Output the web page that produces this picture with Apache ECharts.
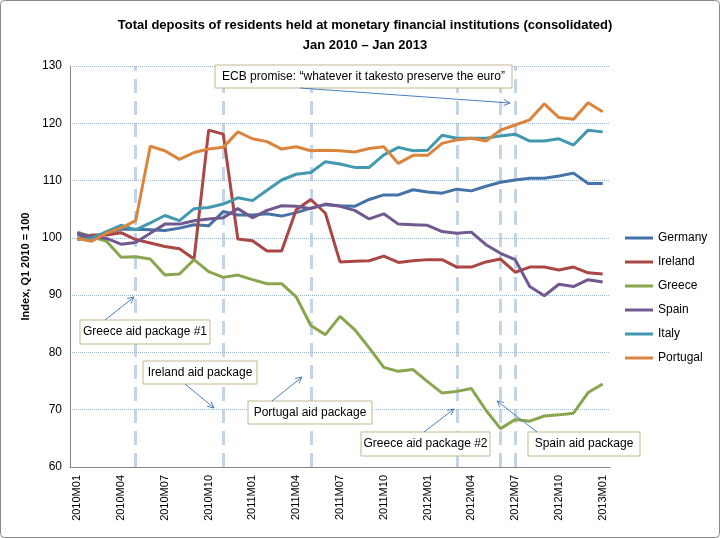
<!DOCTYPE html>
<html><head><meta charset="utf-8">
<script src="https://cdn.jsdelivr.net/npm/echarts@6/dist/echarts.min.js"></script>
<style>html,body{margin:0;padding:0;background:#fff}#c{width:721px;height:539px}</style>
</head><body><div id="c"></div>
<script>
const months = [];
for (let y = 2010; y <= 2013; y++) for (let m = 1; m <= 12; m++) { if (y === 2013 && m > 1) break; months.push(y + 'M' + String(m).padStart(2, '0')); }
const germany = [100.5,100.2,100.8,101.5,101.5,101.4,101.3,101.7,102.3,102.1,104.6,104,104,104.2,103.8,104.4,105.2,105.8,105.6,105.5,106.7,107.5,107.5,108.4,108,107.8,108.5,108.2,109,109.7,110.1,110.4,110.4,110.8,111.3,109.5,109.5];
const ireland = [99.7,100.5,100.5,100.9,99.7,99.1,98.5,98.1,96.3,118.8,118.1,99.8,99.5,97.7,97.7,104.9,106.7,104.3,95.8,95.9,96,96.8,95.7,96,96.2,96.2,94.9,94.9,95.8,96.3,94,94.9,94.9,94.4,94.9,93.9,93.7];
const greece = [101,100.2,99.4,96.6,96.7,96.3,93.5,93.7,96.2,94.1,93.1,93.5,92.7,92,92,89.7,84.7,83.1,86.3,84,80.8,77.4,76.7,77,74.9,72.9,73.2,73.7,69.9,66.7,68.3,68,68.9,69.1,69.4,73,74.5];
const spain = [100.8,100.2,99.9,98.9,99.2,100.8,102.4,102.4,103,103.3,103.5,105.1,103.5,104.8,105.6,105.5,105.1,105.9,105.5,104.8,103.3,104.2,102.4,102.3,102.2,101.1,100.8,101,98.8,97.3,96.2,91.5,89.9,91.9,91.5,92.7,92.3];
const italy = [99.8,99.9,101.1,102.2,101.4,102.6,103.9,103,105.1,105.3,105.9,107,106.5,108.3,110.1,111.1,111.4,113.3,112.9,112.3,112.3,114.5,115.8,115.2,115.3,117.9,117.4,117.4,117.4,117.8,118.1,116.9,116.9,117.3,116.2,118.8,118.5];
const portugal = [99.9,99.4,100.8,101.7,103,116,115.2,113.7,114.9,115.5,115.8,118.5,117.3,116.8,115.5,115.9,115.2,115.3,115.2,115,115.6,115.9,113,114.4,114.4,116.5,117.1,117.4,116.9,118.8,119.7,120.6,123.4,121,120.7,123.6,122];
// event positions as (fractional) month indices
const eventIndex = [4, 9.5, 15.5, 26, 28.7, 29.8];

const chart = echarts.init(document.getElementById('c'));
const font = 'Liberation Sans, Arial, sans-serif';
function mk(name, data, color, extra) {
  return Object.assign({ name, type: 'line', data, symbol: 'none', lineStyle: { width: 3, color }, itemStyle: { color } }, extra || {});
}
function box(x, y, w, h, text) {
  return [{ type: 'rect', shape: { x, y, width: w, height: h }, style: { fill: '#fff', stroke: '#c4b88f', lineWidth: 1 }, z: 100 },
          { type: 'text', x: x + w / 2, y: y + h / 2, style: { text, font: '12px ' + font, fill: '#000', align: 'center', verticalAlign: 'middle' }, z: 101 }];
}
function arrow(x1, y1, x2, y2) {
  const a = Math.atan2(y2 - y1, x2 - x1), L = 7;
  return [{ type: 'line', shape: { x1, y1, x2, y2 }, style: { stroke: '#4a7ebb', lineWidth: 1 }, z: 100 },
          { type: 'polyline', shape: { points: [[x2 - L * Math.cos(a - 0.45), y2 - L * Math.sin(a - 0.45)], [x2, y2], [x2 - L * Math.cos(a + 0.45), y2 - L * Math.sin(a + 0.45)]] }, style: { stroke: '#4a7ebb', lineWidth: 1, fill: null }, z: 100 }];
}
chart.setOption({
  animation: false,
  title: { text: 'Total deposits of residents held at monetary financial institutions (consolidated)\nJan 2010 – Jan 2013', left: 360, textAlign: 'center', top: 10, textStyle: { fontSize: 13, fontWeight: 'bold', fontFamily: font, lineHeight: 20, color: '#000' } },
  legend: { orient: 'vertical', left: 620, top: 227, itemGap: 12, itemWidth: 28, itemHeight: 3, icon: 'rect', textStyle: { fontFamily: font, fontSize: 12, color: '#000' }, data: ['Germany','Ireland','Greece','Spain','Italy','Portugal'] },
  grid: { left: 70, right: 111, top: 66, bottom: 72 },
  xAxis: { type: 'category', data: months, boundaryGap: true,
    axisLine: { lineStyle: { color: '#868686' } }, axisTick: { show: false },
    axisLabel: { interval: 2, rotate: 90, fontFamily: font, fontSize: 11, color: '#000' } },
  yAxis: { type: 'value', min: 60, max: 130, interval: 10, name: 'Index, Q1 2010 = 100', nameLocation: 'middle', nameGap: 38, nameTextStyle: { fontWeight: 'bold', fontFamily: font, fontSize: 11, color: '#000' },
    axisLine: { show: true, lineStyle: { color: '#868686' } },
    axisLabel: { fontFamily: font, fontSize: 12, color: '#000' },
    splitLine: { lineStyle: { type: 'dotted', color: '#9bb7d9' } } },
  series: [
    mk('Germany', germany, '#4572A7', { z: 5 }),
    mk('Ireland', ireland, '#AA4643', { z: 5 }),
    mk('Greece', greece, '#89A54E', { z: 5 }),
    mk('Spain', spain, '#71588F', { z: 5 }),
    mk('Italy', italy, '#4198AF', { z: 5 }),
    mk('Portugal', portugal, '#DB843D', { z: 5, markLine: { silent: true, symbol: 'none', label: { show: false },
      lineStyle: { type: [14, 8], width: 3, color: 'rgba(149,179,215,0.55)' },
      data: eventIndex.map(i => ({ xAxis: i })) } })
  ],
  graphic: [
    { type: 'rect', shape: { x: 0.5, y: 0.5, width: 719, height: 537, r: 4 }, style: { fill: null, stroke: '#888', lineWidth: 1 }, z: 0 },
    ...box(215, 65, 297, 23, 'ECB promise: “whatever it takesto preserve the euro”'), ...arrow(300, 88, 510, 103),
    ...box(80, 320, 130, 24, 'Greece aid package #1'), ...arrow(105, 320, 134, 297),
    ...box(143, 361, 114, 23, 'Ireland aid package'), ...arrow(185, 384, 214, 408),
    ...box(248, 401, 124, 23, 'Portugal aid package'), ...arrow(272, 401, 302, 377),
    ...box(361, 432, 129, 24, 'Greece aid package #2'), ...arrow(424, 432, 454, 409),
    ...box(528, 432, 112, 24, 'Spain aid package'), ...arrow(537, 432, 497, 401)
  ]
});
</script></body></html>
